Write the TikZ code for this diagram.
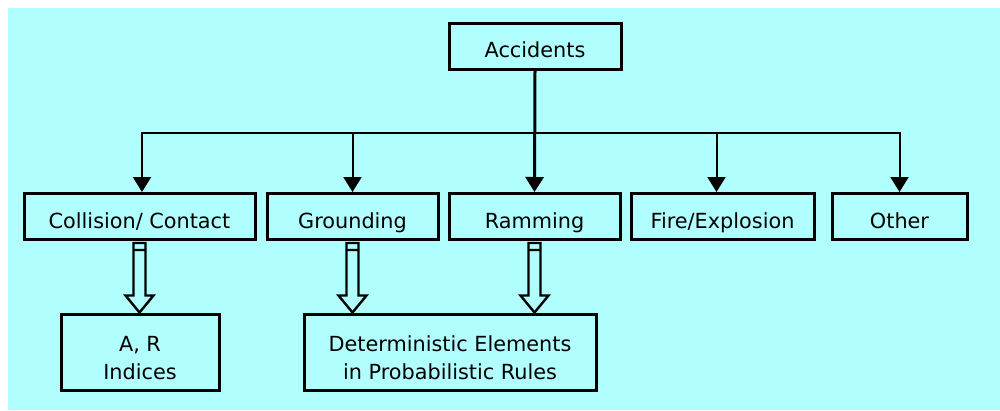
\documentclass[tikz,border=0pt]{standalone}
\usepackage{fontspec}
\setmainfont{DejaVu Sans}
\usetikzlibrary{arrows.meta,calc}
\definecolor{bgcyan}{RGB}{176,254,254}
\tikzset{
  box/.style={draw=black,line width=3pt,fill=bgcyan,inner sep=0pt,
    font=\fontsize{20.8}{28}\selectfont},
  onebox/.style={box,text height=23pt,text depth=0pt},
  conn/.style={line width=2pt,-{Triangle[length=15pt,width=18pt]}},
  trunk/.style={line width=3pt,-{Triangle[length=15pt,width=18pt]}},
  hollow/.style={draw=black,line width=2.4pt,fill=bgcyan,line join=miter},
}
\newcommand{\twolines}[2]{\raisebox{-7.5pt}[\height][\depth]{\begin{tabular}{@{}c@{}}#1\\#2\end{tabular}}}
\newcommand{\hollowarrow}[2]{%
  \path let \p1=(#1.south), \p2=(#2.north) in
    [hollow] (\x1-6pt,\y1-2pt) -- (\x1+6pt,\y1-2pt) -- (\x1+6pt,\y2+17pt)
      -- (\x1+14pt,\y2+17pt) -- (\x1,\y2) -- (\x1-14pt,\y2+17pt)
      -- (\x1-6pt,\y2+17pt) -- cycle
    (\x1-6pt,\y1-9pt) -- (\x1+6pt,\y1-9pt);
}
\begin{document}
\begin{tikzpicture}[x=1pt,y=-1pt]
\fill[white] (0,0) rectangle (1000,410);
\fill[bgcyan] (8,8) rectangle (1000,410);
\useasboundingbox (0,0) rectangle (1000,410);

\coordinate (bus) at (534,133);
\node[onebox,minimum width=172pt,minimum height=46pt] (acc) at (535,46) {Accidents};
\node[onebox,minimum width=231pt,minimum height=46pt] (cc) at (139.5,216.5) {Collision/ Contact};
\node[onebox,minimum width=171pt,minimum height=46pt] (gr) at (352.5,216.5) {Grounding};
\node[onebox,minimum width=171pt,minimum height=46pt] (ram) at (534.5,216.5) {Ramming};
\node[onebox,minimum width=183pt,minimum height=46pt] (fire) at (722.5,216.5) {Fire/Explosion};
\node[onebox,minimum width=135pt,minimum height=46pt] (oth) at (899.5,216.5) {Other};
\node[box,minimum width=158pt,minimum height=76pt] (ar) at (140,352) {\twolines{A, R}{Indices}};
\node[box,minimum width=292pt,minimum height=76pt] (det) at (450,352) {\twolines{Deterministic Elements}{in Probabilistic Rules}};

\draw[conn] (acc.south) -- (acc.south|-bus) -| ([xshift=2.5pt]cc.north);
\draw[conn] (acc.south) -- (acc.south|-bus) -| (gr.north);
\draw[conn] (acc.south) -- (acc.south|-bus) -| ([xshift=-6pt]fire.north);
\draw[conn] (acc.south) -- (acc.south|-bus) -| (oth.north);
\draw[trunk] (acc.south) -- (ram.north);

\hollowarrow{cc}{ar}
\hollowarrow{gr}{det}
\hollowarrow{ram}{det}
\end{tikzpicture}
\end{document}
